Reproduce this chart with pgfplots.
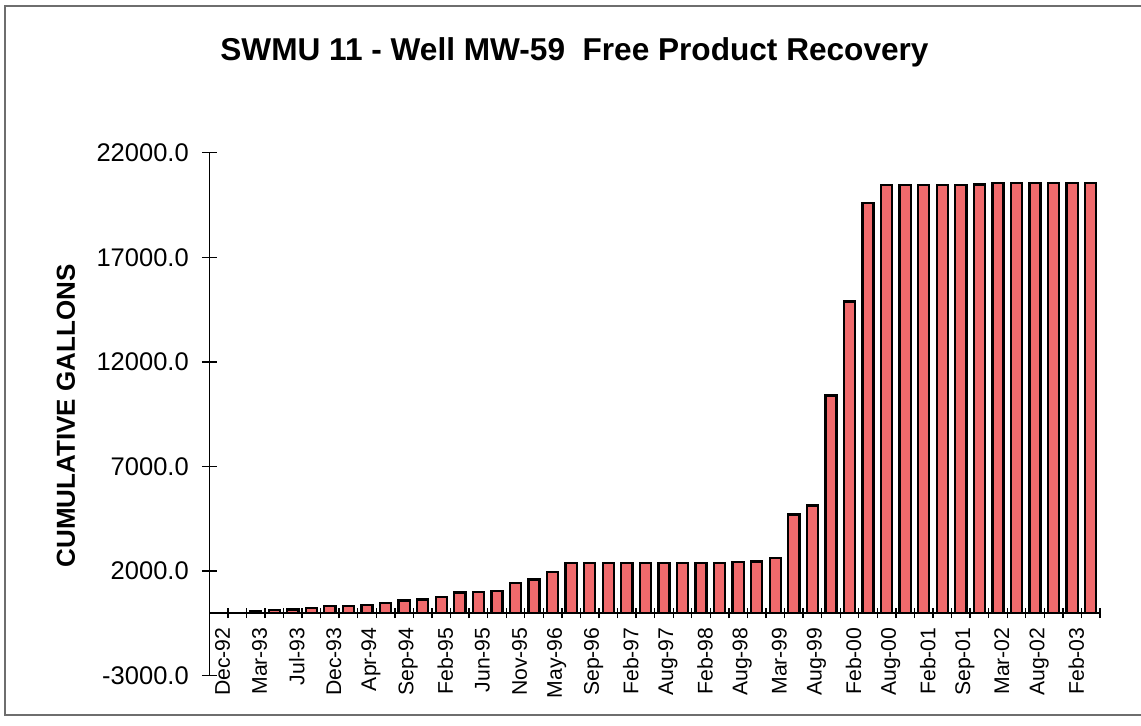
\documentclass[border=0pt]{standalone}
\usepackage{fontspec}
\setmainfont{Liberation Sans}
\usepackage{pgfplots}
\usepackage{pgfplotstable}
\pgfplotsset{compat=1.18}
\definecolor{barred}{RGB}{240,106,108}
\definecolor{framegray}{RGB}{110,110,110}

\pgfplotstableread{
idx val
2 90
3 140
4 160
5 250
6 320
7 340
8 380
9 470
10 600
11 640
12 770
13 980
14 1010
15 1040
16 1440
17 1600
18 1970
19 2380
20 2380
21 2380
22 2380
23 2380
24 2380
25 2380
26 2380
27 2390
28 2450
29 2460
30 2610
31 4710
32 5140
33 10390
34 14890
35 19580
36 20470
37 20470
38 20470
39 20470
40 20470
41 20480
42 20540
43 20550
44 20550
45 20550
46 20550
47 20550
}\datatable

\begin{document}
\begin{tikzpicture}
\path[use as bounding box] (0,0) rectangle (570.5pt,363pt);
\draw[framegray, line width=0.8pt] (570.5pt,360pt) -- (2.5pt,360pt) -- (2.5pt,5.5pt) -- (570.5pt,5.5pt);
\begin{axis}[
  at={(104.65pt,25.15pt)}, anchor=south west,
  scale only axis, width=445.35pt, height=261.5pt,
  xmin=-0.5, xmax=47.5, ymin=-3000, ymax=22000,
  axis x line=middle, axis y line=left,
  axis line style={-, black, line width=0.7pt},
  tick align=center,
  tick style={black, line width=0.7pt},
  major tick length=7.5pt,
  minor tick length=5.3pt,
  scaled y ticks=false,
  ytick={-3000,2000,7000,12000,17000,22000},
  yticklabel style={font=\fontsize{12.75}{14}\selectfont, xshift=-3pt},
  /pgf/number format/fixed,
  /pgf/number format/fixed zerofill,
  /pgf/number format/precision=1,
  /pgf/number format/1000 sep={},
  /pgf/number format/assume math mode=true,
  xtick={0,2,...,46},
  xticklabels={Dec-92,Mar-93,Jul-93,Dec-93,Apr-94,Sep-94,Feb-95,Jun-95,Nov-95,May-96,Sep-96,Feb-97,Aug-97,Feb-98,Aug-98,Mar-99,Aug-99,Feb-00,Aug-00,Feb-01,Sep-01,Mar-02,Aug-02,Feb-03},
  minor xtick={-0.5,0.5,...,47.5},
  major x tick style={draw=none},
  xticklabel style={rotate=90, anchor=east, font=\fontsize{10.6}{12}\selectfont, yshift=-2pt},
  title={SWMU 11 - Well MW-59\ \ Free Product Recovery},
  title style={at={(axis description cs:0.41,1.1964)}, anchor=center, yshift=-7pt, font=\fontsize{15.8}{18}\selectfont\bfseries},
  ylabel={CUMULATIVE GALLONS},
  ylabel style={at={(axis description cs:-0.1609,0.4966)}, anchor=center, font=\fontsize{13}{15}\selectfont\bfseries},
]
\addplot[ybar, bar width=0.6, fill=barred, draw=black, line width=1.15pt] table[x=idx,y=val]{\datatable};
\end{axis}
\end{tikzpicture}
\end{document}
